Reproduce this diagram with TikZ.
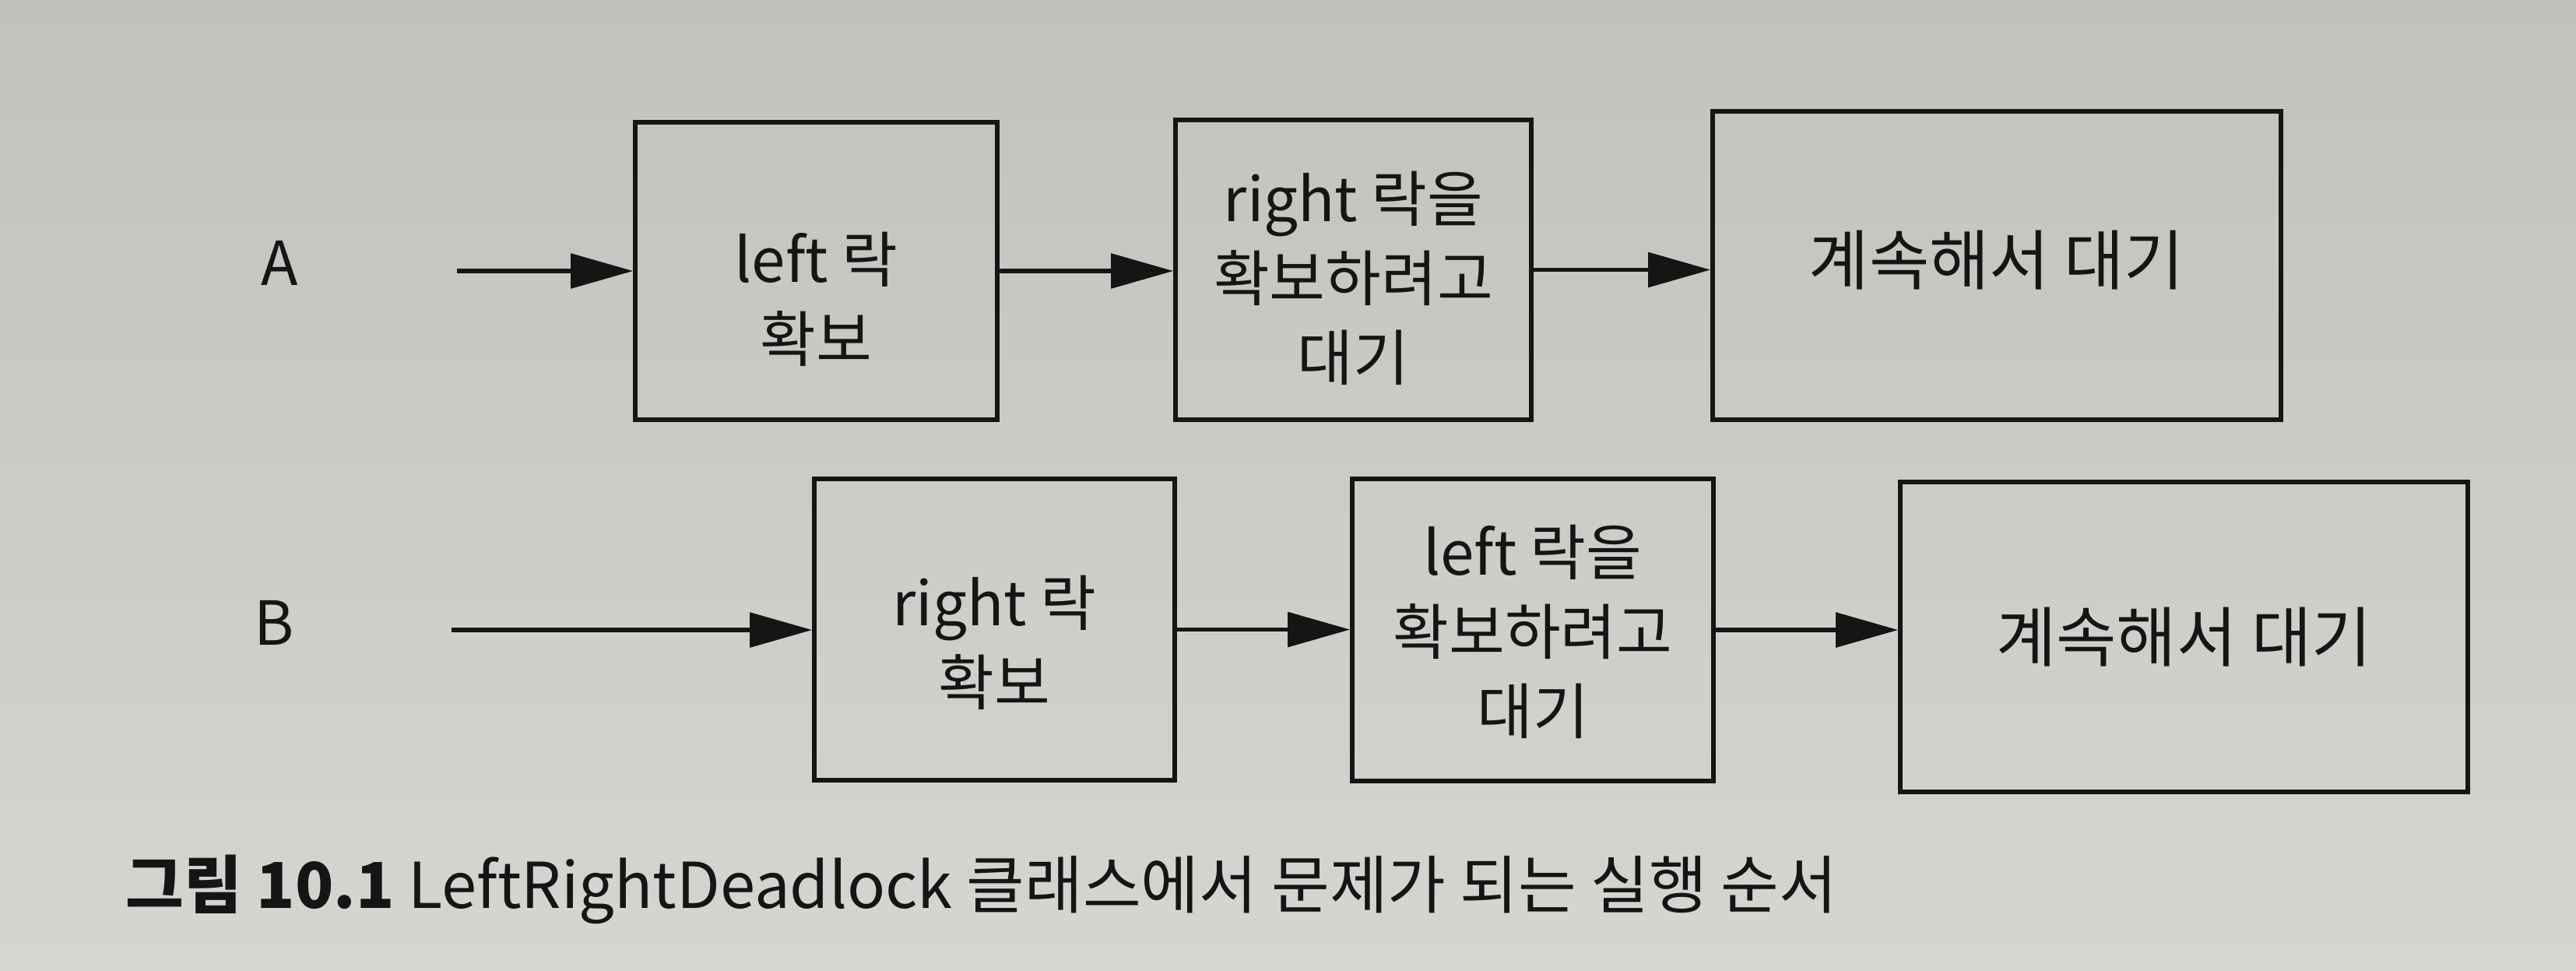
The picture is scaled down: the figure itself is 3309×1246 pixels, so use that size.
\documentclass[tikz,border=0pt]{standalone}
\usepackage{fontspec}
\setmainfont{Noto Sans CJK KR}
\usetikzlibrary{arrows.meta}
\definecolor{papertop}{RGB}{194,193,188}
\definecolor{paperbot}{RGB}{214,213,209}
\definecolor{ink}{RGB}{22,20,20}
% #1 = downward shift of the text block, #2 = lines
\newcommand{\boxtext}[2]{\raisebox{\dimexpr-#1-4.9pt\relax}[0pt][0pt]{\begin{tabular}{@{}c@{}}#2\end{tabular}}}
\tikzset{
  stepbox/.style={draw=ink, line width=1.4pt, inner sep=0pt, text=ink,
    font=\fontsize{19.5}{25.5}\selectfont},
  widebox/.style={stepbox, font=\fontsize{21}{26}\selectfont},
  flow/.style={draw=ink, line width=1.4pt, -{Triangle[length=20pt,width=11pt]}},
  rowlabel/.style={text=ink, font=\fontsize{19.5}{24}\selectfont},
  caption/.style={text=ink, anchor=west, inner sep=0pt, font=\fontsize{20.3}{24}\selectfont}
}
\begin{document}
\begin{tikzpicture}[x=0.25pt,y=-0.25pt]
\shade[top color=papertop, bottom color=paperbot] (0,0) rectangle (3309,1246);
\useasboundingbox (0,0) rectangle (3309,1246);

% row A
\node[rowlabel] (la) at (359,338) {A};
\coordinate (sa) at (587,348);
\node[stepbox, minimum width=116.25pt, minimum height=95.5pt] (a1) at (1048.5,348)
  {\boxtext{11.5pt}{left 락\\확보}};
\node[stepbox, minimum width=114.25pt, minimum height=96.25pt] (a2) at (1738.5,346.5)
  {\boxtext{5.25pt}{right 락을\\확보하려고\\대기}};
\node[widebox, minimum width=182.5pt, minimum height=99pt] (a3) at (2565,341)
  {\boxtext{1.1pt}{계속해서 대기}};
\draw[flow] (sa) -- (sa -| a1.west);
\draw[flow] (a1.east) -- (a1.east -| a2.west);
\draw[flow] (a2.east) -- (a2.east -| a3.west);

% row B
\node[rowlabel] (lb) at (352,800) {B};
\coordinate (sb) at (580,809);
\node[stepbox, minimum width=115.75pt, minimum height=96.75pt] (b1) at (1277.5,808.5)
  {\boxtext{6.75pt}{right 락\\확보}};
\node[stepbox, minimum width=116pt, minimum height=97pt] (b2) at (1969,809)
  {\boxtext{3.1pt}{left 락을\\확보하려고\\대기}};
\node[widebox, minimum width=182.25pt, minimum height=99.5pt] (b3) at (2805.5,818)
  {\boxtext{3pt}{계속해서 대기}};
\draw[flow] (sb) -- (sb -| b1.west);
\draw[flow] (b1.east) -- (b1.east -| b2.west);
\draw[flow] (b2.east) -- (b2.east -| b3.west);

% caption
\node[caption] (cap) at (161,1142) {\textbf{그림 10.1} LeftRightDeadlock 클래스에서 문제가 되는 실행 순서};
\end{tikzpicture}
\end{document}
